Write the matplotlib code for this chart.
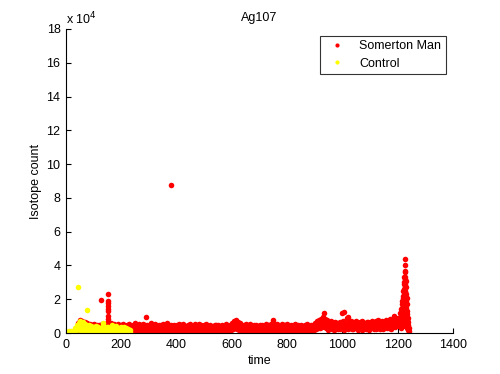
import matplotlib
matplotlib.use("Agg")
import matplotlib.pyplot as plt
from matplotlib.ticker import FuncFormatter, MultipleLocator

plt.rcParams['font.family'] = ['Liberation Sans', 'DejaVu Sans']

# ---------------- data (counts in hundreds) ----------------
# Somerton Man: regular samples starting at t=40, every 2.5 time units
sm_t0 = 40.0
sm_dt = 2.5
sm_rows = [
    [30, 62, 45, 15, 78, 50, 35, 70, 20, 55, 40, 68, 12, 50, 30, 58, 18, 44, 32, 52],
    [20, 48, 32, 12, 55, 35, 18, 42, 28, 50, 15, 38, 45, 25, 10, 40, 52, 30, 18, 47],
    [15, 50, 30, 20, 62, 38, 10, 45, 28, 58, 35, 14, 48, 24, 56, 32, 12, 44, 36, 52],
    [25, 50, 35, 12, 45, 30, 18, 55, 38, 22, 42, 10, 48, 34, 16, 52, 28, 20, 44, 36],
    [8, 45, 28, 15, 62, 34, 12, 50, 26, 18, 55, 36, 10, 40, 30, 14, 52, 24, 46, 32],
    [20, 50, 32, 10, 44, 28, 14, 58, 36, 22, 48, 12, 30, 54, 24, 8, 42, 34, 18, 46],
    [15, 48, 30, 10, 55, 34, 20, 42, 26, 12, 60, 36, 16, 46, 28, 8, 50, 32, 18, 44],
    [22, 50, 34, 14, 45, 28, 10, 56, 36, 18, 48, 26, 12, 52, 32, 20, 44, 30, 15, 42],
    [10, 46, 28, 16, 54, 34, 8, 40, 24, 18, 52, 30, 12, 44, 26, 14, 56, 36, 20, 45],
    [18, 42, 30, 8, 48, 26, 12, 52, 34, 16, 40, 24, 6, 50, 30, 14, 44, 28, 10, 46],
    [12, 46, 28, 8, 50, 32, 16, 40, 24, 10, 48, 30, 14, 42, 26, 8, 52, 34, 16, 44],
    [20, 50, 35, 18, 62, 40, 25, 70, 45, 30, 78, 50, 22, 65, 38, 20, 58, 34, 15, 50],
    [12, 46, 28, 10, 52, 32, 16, 44, 26, 8, 55, 34, 14, 42, 24, 10, 50, 30, 18, 46],
    [16, 44, 30, 10, 50, 28, 14, 46, 32, 12, 42, 26, 8, 52, 34, 18, 48, 24, 10, 45],
    [20, 55, 36, 14, 68, 40, 22, 50, 30, 10, 52, 32, 16, 44, 28, 12, 56, 34, 20, 48],
    [14, 46, 28, 10, 52, 32, 16, 44, 24, 12, 50, 30, 18, 42, 26, 10, 55, 34, 14, 46],
    [16, 44, 30, 10, 50, 28, 14, 42, 24, 12, 48, 32, 18, 52, 30, 10, 40, 26, 16, 46],
    [18, 50, 34, 20, 62, 40, 25, 70, 45, 28, 78, 50, 30, 85, 55, 35, 95, 60, 40, 80],
    [30, 75, 50, 20, 65, 42, 35, 70, 48, 22, 60, 38, 18, 68, 44, 26, 58, 40, 24, 62],
    [26, 65, 44, 30, 120, 70, 20, 62, 40, 28, 90, 55, 22, 66, 42, 30, 72, 48, 24, 64],
    [22, 62, 40, 30, 70, 48, 18, 58, 36, 28, 66, 44, 20, 72, 46, 26, 60, 38, 24, 68],
    [28, 68, 46, 20, 62, 40, 34, 74, 50, 26, 66, 44, 22, 70, 48, 30, 76, 52, 24, 62],
    [30, 72, 50, 24, 66, 44, 38, 78, 56, 28, 70, 48, 32, 82, 58, 26, 74, 50, 40, 100],
    [35, 80, 58, 45, 90, 62, 40, 85, 60, 30, 95, 64, 50, 100, 70, 40, 110, 75],
]
# Somerton Man: isolated high points
sm_out_t = [127, 152, 152, 152, 152, 152, 152, 153, 153, 290, 380, 750, 935, 1005, 1020]
sm_out_v = [195, 230, 190, 175, 160, 145, 130, 100, 85, 95, 875, 75, 120, 125, 95]
# Somerton Man: spike near the end (time -> values)
sm_spike = {
    1210: [50, 90, 120],
    1212: [60, 100, 140],
    1214: [40, 90, 130, 170],
    1216: [60, 110, 150, 190],
    1218: [50, 90, 130, 170, 210],
    1220: [60, 100, 140, 180, 220, 250],
    1222: [50, 90, 130, 170, 210, 250, 290],
    1224: [60, 100, 140, 180, 220, 260, 300, 330],
    1226: [80, 120, 160, 200, 240, 280, 320, 360, 400, 438],
    1228: [90, 130, 170, 210, 250, 290, 330, 370],
    1230: [70, 110, 150, 190, 230, 270, 310],
    1232: [50, 90, 130, 170, 210],
    1234: [30, 70, 110],
    1236: [90, 50],
    1238: [65, 20],
    1240: [0, 10, 30],
}

# Control: regular samples starting at t=0, every 2.5 time units
ct_t0 = 0.0
ct_dt = 2.5
ct_rows = [
    [2, 8, 4, 0, 10, 5, 1, 12, 6, 3, 14, 8, 10, 30, 20, 15, 45, 28, 25, 60],
    [18, 50, 30, 10, 40, 22, 25, 55, 35, 12, 38, 24, 8, 45, 26, 10, 40, 20, 5, 34],
    [12, 35, 22, 8, 40, 24, 6, 38, 20, 10, 30, 18, 4, 42, 24, 10, 36, 20, 14, 38],
    [10, 38, 22, 5, 32, 18, 16, 45, 28, 8, 36, 20, 4, 40, 24, 12, 30, 18, 6, 34],
    [12, 30, 18, 6, 35, 20, 8, 28, 16, 5, 26, 14, 4, 20],
]
ct_out_t = [42, 75, 134, 50, 60]
ct_out_v = [270, 135, 60, 70, 65]

SCALE = 100  # values above are in hundreds of counts

# ---------------- assemble ----------------
sm_vals = [v for row in sm_rows for v in row]
sm_t = [sm_t0 + sm_dt * i for i in range(len(sm_vals))]
sm_y = [v * SCALE for v in sm_vals]
sm_t += sm_out_t
sm_y += [v * SCALE for v in sm_out_v]
for tt, vs in sm_spike.items():
    sm_t += [tt] * len(vs)
    sm_y += [v * SCALE for v in vs]

ct_vals = [v for row in ct_rows for v in row]
ct_t = [ct_t0 + ct_dt * i for i in range(len(ct_vals))]
ct_y = [v * SCALE for v in ct_vals]
ct_t += ct_out_t
ct_y += [v * SCALE for v in ct_out_v]

# ---------------- plot ----------------
fig = plt.figure(figsize=(5.0, 3.74), dpi=100)
ax = fig.add_axes([0.132, 0.1096, 0.774, 0.8129])

ax.plot(sm_t, sm_y, linestyle='none', marker='o', ms=4.0, mew=0,
        color=(1, 0, 0), label='Somerton Man')
ax.plot(ct_t, ct_y, linestyle='none', marker='o', ms=4.0, mew=0,
        color=(1, 1, 0), label='Control')

ax.set_xlim(0, 1400)
ax.set_ylim(0, 180000)
ax.xaxis.set_major_locator(MultipleLocator(200))
ax.yaxis.set_major_locator(MultipleLocator(20000))
ax.yaxis.set_major_formatter(FuncFormatter(lambda v, p: f"{v/1e4:g}"))

for s in ['top', 'right']:
    ax.spines[s].set_visible(False)
for s in ['left', 'bottom']:
    ax.spines[s].set_linewidth(0.8)
ax.tick_params(direction='in', length=3.5, width=0.8, labelsize=9, pad=4)

ax.text(0.0, 1.005, r'x 10$^4$', transform=ax.transAxes, fontsize=9,
        ha='left', va='bottom')
ax.set_title('Ag107', fontsize=9, pad=6)
ax.set_xlabel('time', fontsize=9, labelpad=3)
ax.set_ylabel('Isotope count', fontsize=9, labelpad=3)

leg = ax.legend(loc='upper right', bbox_to_anchor=(0.988, 0.986), fontsize=9,
                frameon=True, fancybox=False, markerscale=0.75,
                handlelength=2.0, borderpad=0.35, labelspacing=0.45,
                handletextpad=0.8, borderaxespad=0.2)
leg.get_frame().set_edgecolor('black')
leg.get_frame().set_linewidth(0.8)

fig.savefig('out.png', dpi=100)
